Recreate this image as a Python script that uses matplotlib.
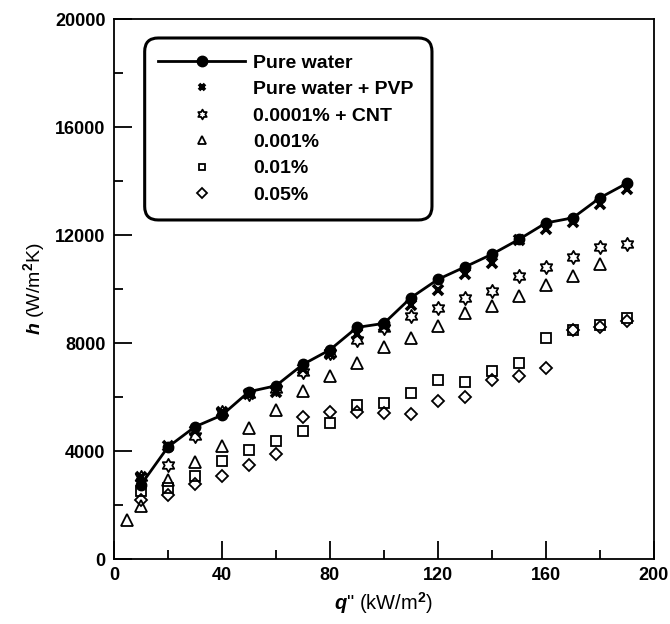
import numpy as np
import matplotlib
matplotlib.use('Agg')
import matplotlib.pyplot as plt
from matplotlib.path import Path
from matplotlib.patches import FancyBboxPatch
from matplotlib.ticker import MultipleLocator

plt.rcParams['font.family'] = 'Liberation Sans'
plt.rcParams['font.weight'] = 'bold'
plt.rcParams['mathtext.fontset'] = 'custom'
plt.rcParams['mathtext.rm'] = 'Liberation Sans:bold'
plt.rcParams['mathtext.bf'] = 'Liberation Sans:bold'
plt.rcParams['mathtext.it'] = 'Liberation Sans:bold:italic'

# Données
q = [10, 20, 30, 40, 50, 60, 70, 80, 90, 100, 110, 120, 130, 140, 150, 160, 170, 180, 190]
q_tri = [5, 10, 20, 30, 40, 50, 60, 70, 80, 90, 100, 110, 120, 130, 140, 150, 160, 170, 180]

h_pure = [2750, 4150, 4900, 5330, 6200, 6420, 7210, 7750, 8580, 8730,
          9680, 10360, 10820, 11290, 11840, 12450, 12640, 13380, 13920]
h_pvp = [3050, 4200, 4750, 5450, 6100, 6200, 7050, 7600, 8350, 8650,
         9400, 9960, 10550, 10980, 11800, 12220, 12470, 13170, 13700]
h_cnt = [3050, 3480, 4550, 5450, 6100, 6300, 6940, 7620, 8110, 8570,
         9010, 9310, 9660, 9930, 10490, 10800, 11180, 11550, 11670]
h_001 = [1440, 1960, 2930, 3600, 4200, 4840, 5520, 6230, 6790, 7250,
         7870, 8200, 8640, 9100, 9370, 9740, 10150, 10480, 10920]
h_01 = [2530, 2650, 3070, 3640, 4050, 4380, 4750, 5040, 5700, 5800,
        6170, 6630, 6550, 6960, 7250, 8200, 8480, 8670, 8940]
h_05 = [2190, 2370, 2770, 3090, 3480, 3880, 5260, 5430, 5460, 5420,
        5360, 5860, 6010, 6630, 6780, 7060, 8480, 8580, 8830]

labels = ['Pure water', 'Pure water + PVP', '0.0001% + CNT', '0.001%', '0.01%', '0.05%']

# marqueur étoile à six branches (contour)
ang = np.deg2rad(90 + 30 * np.arange(12))
rad = np.where(np.arange(12) % 2 == 0, 1.0, 1 / np.sqrt(3))
verts = np.column_stack([rad * np.cos(ang), rad * np.sin(ang)])
verts = np.vstack([verts, verts[:1]])
hexagram = Path(verts, [Path.MOVETO] + [Path.LINETO] * 11 + [Path.CLOSEPOLY])

fig = plt.figure(figsize=(6.7, 6.24), dpi=100)
ax = fig.add_axes([0.170, 0.104, 0.806, 0.8654])

ax.plot(q, h_pure, '-o', color='black', lw=2, ms=7.5, label=labels[0], zorder=5)
ax.plot(q, h_pvp, 'x', color='black', ms=6.5, mew=2.6, label=labels[1], zorder=4)
ax.plot(q, h_cnt, ls='none', marker=hexagram, color='black', mfc='none', ms=9.5, mew=1.3, label=labels[2])
ax.plot(q_tri, h_001, '^', color='black', mfc='none', ms=8, mew=1.3, label=labels[3])
ax.plot(q, h_01, 's', color='black', mfc='none', ms=7.5, mew=1.3, label=labels[4])
ax.plot(q, h_05, 'D', color='black', mfc='none', ms=6.5, mew=1.3, label=labels[5])

ax.set_xlim(0, 200)
ax.set_ylim(0, 20000)
ax.xaxis.set_major_locator(MultipleLocator(40))
ax.xaxis.set_minor_locator(MultipleLocator(20))
ax.yaxis.set_major_locator(MultipleLocator(4000))
ax.yaxis.set_minor_locator(MultipleLocator(2000))
ax.tick_params(which='both', direction='in', top=False, right=False, width=1.3,
               labelsize=13, pad=6)
ax.tick_params(which='major', length=13)
ax.tick_params(which='minor', length=6.5)
for s in ax.spines.values():
    s.set_linewidth(1.3)

ax.set_xlabel(r'$\mathit{q}$" (kW/m$^{2}$)', fontsize=14.5, labelpad=4)
ax.set_ylabel(r'$\mathit{h}$ (W/m$^{2}$K)', fontsize=14, labelpad=6)

# cadre de légende arrondi
box = FancyBboxPatch((0.057, 0.628), 0.532, 0.337, transform=ax.transAxes,
                     boxstyle='round,pad=0,rounding_size=0.025', fc='white',
                     ec='black', lw=2.2, zorder=6)
ax.add_patch(box)
leg = ax.legend(loc='upper left', bbox_to_anchor=(0.074, 0.942), frameon=False,
                fontsize=14, handlelength=4.5, handletextpad=0.42,
                labelspacing=0.45, borderpad=0.2, borderaxespad=0)
leg.set_zorder(7)
for hnd, ms in zip(leg.legend_handles, [7.5, 5, 7, 6, 5, 5]):
    hnd.set_markersize(ms)

fig.savefig('out.png', dpi=100)
